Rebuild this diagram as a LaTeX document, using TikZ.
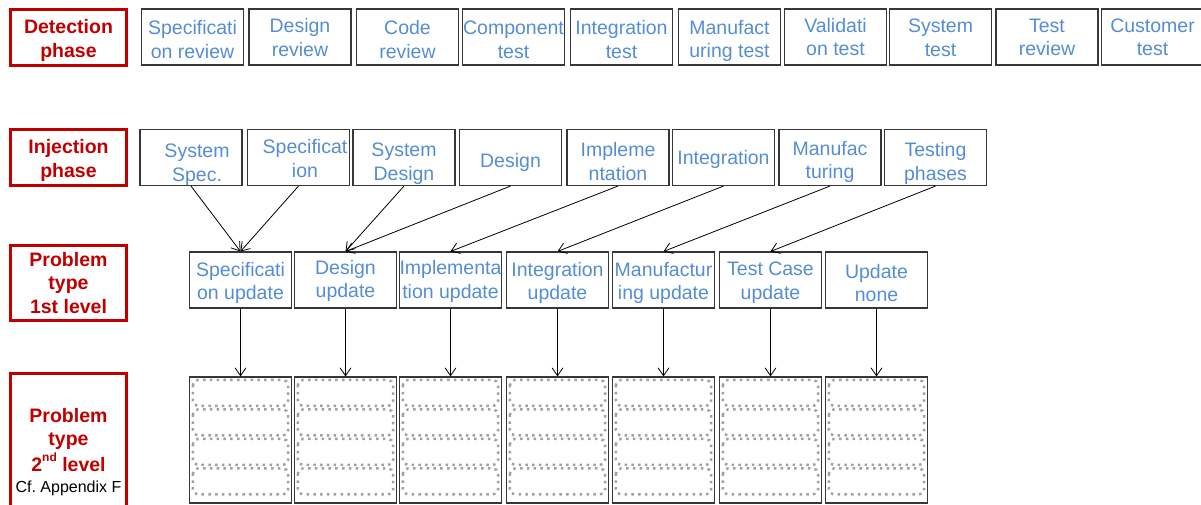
\documentclass[tikz,border=0pt]{standalone}
\usepackage{fontspec}
\setmainfont{Liberation Sans}
\usetikzlibrary{arrows.meta,calc}
\definecolor{blu}{RGB}{84,141,212}
\definecolor{rd}{RGB}{192,0,0}
\definecolor{bxline}{RGB}{55,55,55}
\definecolor{dotc}{RGB}{160,160,160}
% text block lowered by #1 inside its node, keeping its declared size
\newcommand{\tx}[2]{\raisebox{-#1}[\height][\depth]{\begin{tabular}{@{}c@{}}#2\end{tabular}}}
\begin{document}
\begin{tikzpicture}[x=1pt,y=-1pt,
 bx/.style={draw=bxline,line width=1.1pt,minimum width=102pt,minimum height=56pt,inner sep=0pt,text=blu,font=\fontsize{19.5}{23.5}\selectfont},
 rbx/.style={draw=rd,line width=3pt,minimum width=116pt,inner sep=0pt,text=rd,font=\bfseries\fontsize{19.5}{23.2}\selectfont},
 rtxt/.style={inner sep=0pt,text=rd,font=\bfseries\fontsize{19.5}{23.2}\selectfont},
 l2/.style={draw=bxline,line width=1.1pt,minimum width=102pt,minimum height=126pt,inner sep=0pt},
 arr/.style={-{Straight Barb[length=8pt,width=11pt]},line width=0.8pt,draw=black},
 dotbox/.style={draw=dotc,line width=2.5pt,dash pattern=on 2.5pt off 4.3pt,rounded corners=5pt}]
\useasboundingbox (0,0) rectangle (1201,504);

% left labels
\node[rbx,minimum height=56pt] (det) at (68.5,37.3) {\tx{3.5pt}{Detection\\phase}};
\node[rbx,minimum height=56pt] (inj) at (68.5,157.5) {\tx{3.3pt}{Injection\\phase}};
\node[rbx,minimum height=75pt] (p1) at (68.5,282.5) {\tx{2.8pt}{Problem\\type\\1st level}};
\node[rbx,minimum height=136pt] (p2) at (68.5,441) {};
\node[rtxt] (p2t) at (68.5,442.3) {\tx{0pt}{Problem\\type\\2\raisebox{0.55em}{\fontsize{12}{12}\selectfont nd} level}};
\node[inner sep=0pt,font=\fontsize{16}{18}\selectfont] (cf) at (68.5,488) {Cf.\ Appendix F};

% detection row
\node[bx] (d1) at (192.5,37) {\tx{5pt}{Specificati\\on review}};
\node[bx] (d2) at (300,37) {\tx{2.8pt}{Design\\review}};
\node[bx] (d3) at (407.5,37) {\tx{5pt}{Code\\review}};
\node[bx] (d4) at (513.5,37) {\tx{5pt}{Component\\test}};
\node[bx] (d5) at (621.5,37) {\tx{5pt}{Integration\\test}};
\node[bx] (d6) at (729.5,37) {\tx{4.5pt}{Manufact\\uring test}};
\node[bx] (d7) at (835.5,37) {\tx{2.3pt}{Validati\\on test}};
\node[bx] (d8) at (940.5,37) {\tx{2.8pt}{System\\test}};
\node[bx] (d9) at (1047,37) {\tx{2.5pt}{Test\\review}};
\node[bx] (d10) at (1152.5,37) {\tx{2.3pt}{Customer\\test}};

% injection row
\node[bx] (i1) at (191,157.5) {\tx{7.2pt}{\hspace*{12pt}System\\\hspace*{12pt}Spec.}};
\node[bx] (i2) at (298.5,157.5) {\tx{3.5pt}{\hspace*{13pt}Specificat\\\hspace*{13pt}ion}};
\node[bx] (i3) at (404,157.5) {\tx{6.5pt}{System\\Design}};
\node[bx] (i4) at (510.5,157.5) {\tx{5.5pt}{Design}};
\node[bx] (i5) at (618,157.5) {\tx{6.5pt}{Impleme\\ntation}};
\node[bx] (i6) at (723.5,157.5) {\tx{2.3pt}{Integration}};
\node[bx] (i7) at (830,157.5) {\tx{4.8pt}{Manufac\\turing}};
\node[bx] (i8) at (935.5,157.5) {\tx{6.5pt}{Testing\\phases}};

% problem type 1st level
\node[bx] (u1) at (240.5,280) {\tx{3.5pt}{Specificati\\on update}};
\node[bx] (u2) at (345.5,280) {\tx{1.5pt}{Design\\update}};
\node[bx] (u3) at (450.5,280) {\tx{1.8pt}{Implementa\\tion update}};
\node[bx] (u4) at (557.5,280) {\tx{3.5pt}{Integration\\update}};
\node[bx] (u5) at (663.5,280) {\tx{3.5pt}{Manufactur\\ing update}};
\node[bx] (u6) at (770.5,280) {\tx{3pt}{Test Case\\update}};
\node[bx] (u7) at (876.5,280) {\tx{5.3pt}{Update\\none}};

% problem type 2nd level
\node[l2] (v1) at (240.5,440) {};
\node[l2] (v2) at (345.5,440) {};
\node[l2] (v3) at (450.5,440) {};
\node[l2] (v4) at (557.5,440) {};
\node[l2] (v5) at (663.5,440) {};
\node[l2] (v6) at (770.5,440) {};
\node[l2] (v7) at (876.5,440) {};

\foreach \n in {v1,v2,v3,v4,v5,v6,v7}
  \foreach \k in {0,1,2,3}
    \draw[dotbox] ($(\n.north west)+(4,3.5+29.5*\k)$) rectangle ($(\n.north east)+(-4,29.5+29.5*\k)$);

% connectors injection -> 1st level
\draw[arr] (i1.south) -- (u1.north);
\draw[arr] (i2.south) -- (u1.north);
\draw[arr] (i3.south) -- (u2.north);
\draw[arr] (i4.south) -- (u2.north);
\draw[arr] (i5.south) -- (u3.north);
\draw[arr] (i6.south) -- (u4.north);
\draw[arr] (i7.south) -- (u5.north);
\draw[arr] (i8.south) -- (u6.north);

% 1st level -> 2nd level
\foreach \a/\b in {u1/v1,u2/v2,u3/v3,u4/v4,u5/v5,u6/v6,u7/v7}
  \draw[arr] (\a.south) -- (\b.north);
\end{tikzpicture}
\end{document}
